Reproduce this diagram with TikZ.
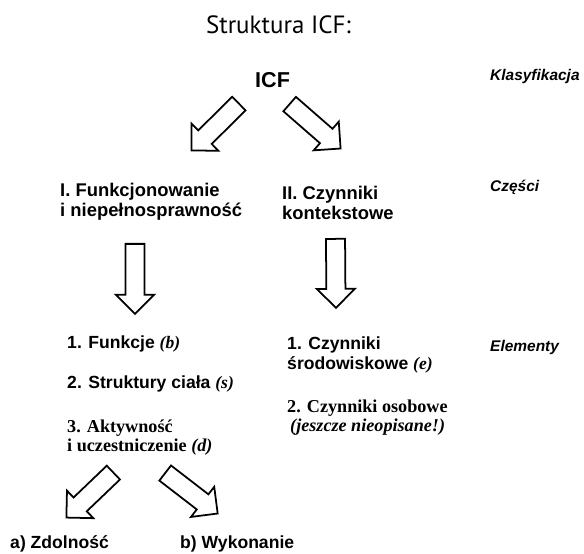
\documentclass[tikz,border=0pt]{standalone}
\usepackage{fontspec}
\setmainfont{Liberation Sans}
\newfontfamily\serfont{Liberation Serif}
\newfontfamily\titlefont{PT Sans}
\usepackage{tikz}
\usetikzlibrary{calc,shapes.arrows}
\tikzset{head/.style={anchor=base west,inner sep=0pt,align=left,
    font=\bfseries\fontsize{15.7}{17.9}\selectfont},
  item/.style={head,font=\bfseries\fontsize{15}{17.9}\selectfont},
  sitem/.style={head,font=\serfont\bfseries\fontsize{15.5}{17}\selectfont},
  level/.style={anchor=base west,inner sep=0pt,
    font=\bfseries\itshape\fontsize{13.2}{15}\selectfont},
  blockarrow/.style={draw,line width=1.5pt,single arrow,
    single arrow head extend=2.85mm,inner xsep=0pt,inner ysep=2.6mm,
    line join=miter,anchor=tail}}
\newcommand{\kod}[1]{{\serfont\bfseries\itshape #1}}
% block arrow from one named point to another
\newcommand{\bigarrow}[2]{\path let \p1=($(#2)-(#1)$),
  \n1={atan2(\y1,\x1)}, \n2={veclen(\x1,\y1)} in
  node[blockarrow,rotate=\n1,minimum height=\n2] at (#1) {};}

\begin{document}
\begin{tikzpicture}[x=0.3mm,y=-0.3mm]
\useasboundingbox (0,0) rectangle (584,554);
\node[anchor=base,inner sep=0pt,font=\titlefont\fontsize{21.3}{25}\selectfont]
  (title) at (278.5,34) {Struktura ICF:};
\node[anchor=base west,inner sep=0pt,font=\bfseries\fontsize{18.4}{22}\selectfont]
  (icf) at (255,88) {ICF};
% levels on the right
\node[level] (klas) at (490,81) {Klasyfikacja};
\node[level] (czesci) at (490,192) {Części};
\node[level] (elem) at (490,352) {Elementy};
% parts (base = last line)
\node[head] (funk) at (60,217) {I. Funkcjonowanie\\i niepełnosprawność};
\node[head] (czyn) at (282,220) {II. Czynniki\\kontekstowe};
% elements
\node[item] (f1) at (67,349) {1. Funkcje \kod{(b)}};
\node[item] (f2) at (67,389) {2. Struktury ciała \kod{(s)}};
\node[sitem] (f3) at (67,452) {3. Aktywność\\i uczestniczenie \kod{(d)}};
\node[item] (c1) at (287,370) {1. Czynniki\\środowiskowe \kod{(e)}};
\node[sitem] (c2) at (287,432)
  {2. Czynniki osobowe\\\hspace*{0.9mm}\kod{(jeszcze nieopisane!)}};
\node[item] (zd) at (10,549) {a) Zdolność};
\node[item] (wy) at (180,549) {b) Wykonanie};
% arrow ends
\coordinate (icf-l) at (239.5,103);
\coordinate (icf-r) at (289,103.5);
\coordinate (funk-in) at (192,150);
\coordinate (czyn-in) at (340,148);
\coordinate (funk-out) at (135,243);
\coordinate (f1-in) at (135,313);
\coordinate (czyn-out) at (335.5,238);
\coordinate (c1-in) at (336,307);
\coordinate (f3-l) at (114,472);
\coordinate (zd-in) at (67,517);
\coordinate (f3-r) at (164.5,472.5);
\coordinate (wy-in) at (217,513);
\bigarrow{icf-l}{funk-in}
\bigarrow{icf-r}{czyn-in}
\bigarrow{funk-out}{f1-in}
\bigarrow{czyn-out}{c1-in}
\bigarrow{f3-l}{zd-in}
\bigarrow{f3-r}{wy-in}
\end{tikzpicture}
\end{document}
